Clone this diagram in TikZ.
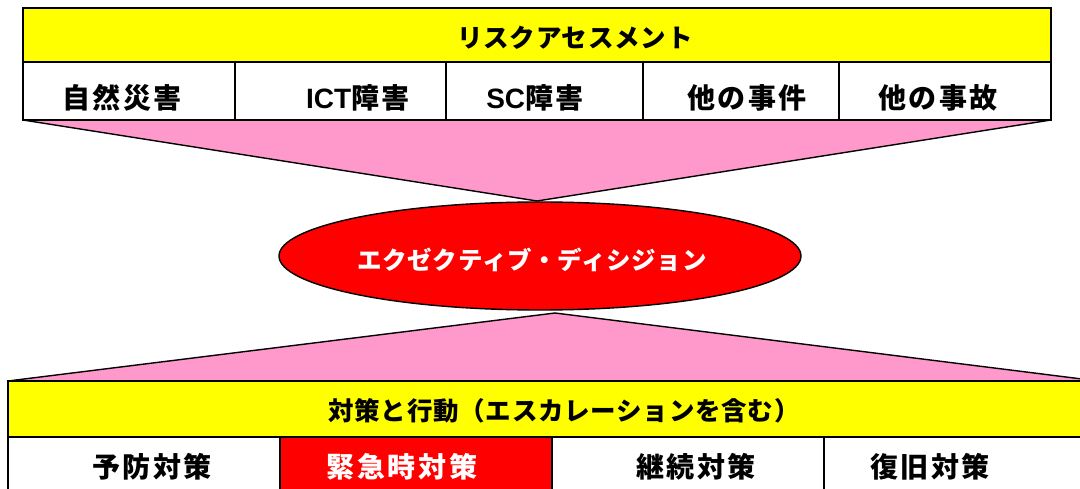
\documentclass[tikz,border=0pt]{standalone}
\usepackage{fontspec}
\setmainfont{Noto Sans CJK JP}
\newfontfamily\rowfont{Noto Sans CJK JP}[LetterSpace=9]
\newfontfamily\ttlfont{Noto Sans CJK JP}[LetterSpace=3]
\newfontfamily\latfont{Liberation Sans}
\usetikzlibrary{shapes.geometric}
\definecolor{pinkf}{HTML}{FF99CC}
\definecolor{yel}{HTML}{FFFF00}
\definecolor{redf}{HTML}{FF0000}
\newcommand{\lat}[1]{{\latfont\bfseries #1}}
\begin{document}
\begin{tikzpicture}[x=1pt,y=-1pt,
  cell/.style={draw=black, line width=1.4pt, inner sep=0pt, outer sep=0pt, anchor=north west},
  ycell/.style={cell, fill=yel},
  wcell/.style={cell, fill=white},
  rcell/.style={cell, fill=redf},
  tri/.style={fill=pinkf, draw=black, line width=1.4pt, line join=miter},
  ttl/.style={font=\ttlfont\bfseries\fontsize{25.5}{26}\selectfont, inner sep=0pt},
  rowt/.style={font=\rowfont\bfseries\fontsize{28}{28}\selectfont, inner sep=0pt},
  elltxt/.style={font=\ttlfont\bfseries\fontsize{24.5}{25}\selectfont, text=white, inner sep=0pt},
  decision/.style={ellipse, draw=black, line width=1.4pt, fill=redf, inner sep=0pt}
]
\useasboundingbox (0,0) rectangle (1080,489);
\clip (0,0) rectangle (1080,489);
\fill[white] (0,0) rectangle (1080,489);

% top block
\node[ycell, minimum width=1028pt, minimum height=54pt] (topy) at (23,8) {};
\node[wcell, minimum width=212pt, minimum height=58pt] (t1) at (23,62) {};
\node[wcell, minimum width=211pt, minimum height=58pt] (t2) at (235,62) {};
\node[wcell, minimum width=197pt, minimum height=58pt] (t3) at (446,62) {};
\node[wcell, minimum width=196pt, minimum height=58pt] (t4) at (643,62) {};
\node[wcell, minimum width=212pt, minimum height=58pt] (t5) at (839,62) {};

% bottom block
\node[ycell, minimum width=1090pt, minimum height=56pt] (boty) at (8,381) {};
\node[wcell, minimum width=272pt, minimum height=60pt] (b1) at (8,437) {};
\node[rcell, minimum width=272pt, minimum height=60pt] (b2) at (280,437) {};
\node[wcell, minimum width=272pt, minimum height=60pt] (b3) at (552,437) {};
\node[wcell, minimum width=272pt, minimum height=60pt] (b4) at (824,437) {};

% funnels
\coordinate (apexT) at (537,201);
\coordinate (apexB) at (555,313);
\draw[tri] (t1.south west) -- (apexT) -- (t5.south east) -- cycle;
\draw[tri] (boty.north west) -- (apexB) -- (boty.north east) -- cycle;
\draw[line width=1.4pt] (t1.south west) -- (t5.south east);
\draw[line width=1.4pt] (boty.north west) -- (boty.north east);

% decision ellipse
\node[decision, minimum width=522pt, minimum height=108pt] (dec) at (540,256) {};

% texts
\node[ttl] (ttop) at (575,38) {リスクアセスメント};
\node[rowt] (l1) at (122,98) {自然災害};
\node[rowt] (l2) at (358,98) {\lat{ICT}障害};
\node[rowt] (l3) at (535,98) {\lat{SC}障害};
\node[rowt] (l4) at (747,98) {他の事件};
\node[rowt] (l5) at (938,98) {他の事故};
\node[elltxt] (ltxt) at (532,260) {エクゼクティブ・ディシジョン};
\node[ttl] (tbot) at (564,411) {対策と行動（エスカレーションを含む）};
\node[rowt] (m1) at (152,467) {予防対策};
\node[rowt, text=white] (m2) at (402,467) {緊急時対策};
\node[rowt] (m3) at (696,467) {継続対策};
\node[rowt] (m4) at (930,467) {復旧対策};
\end{tikzpicture}
\end{document}
